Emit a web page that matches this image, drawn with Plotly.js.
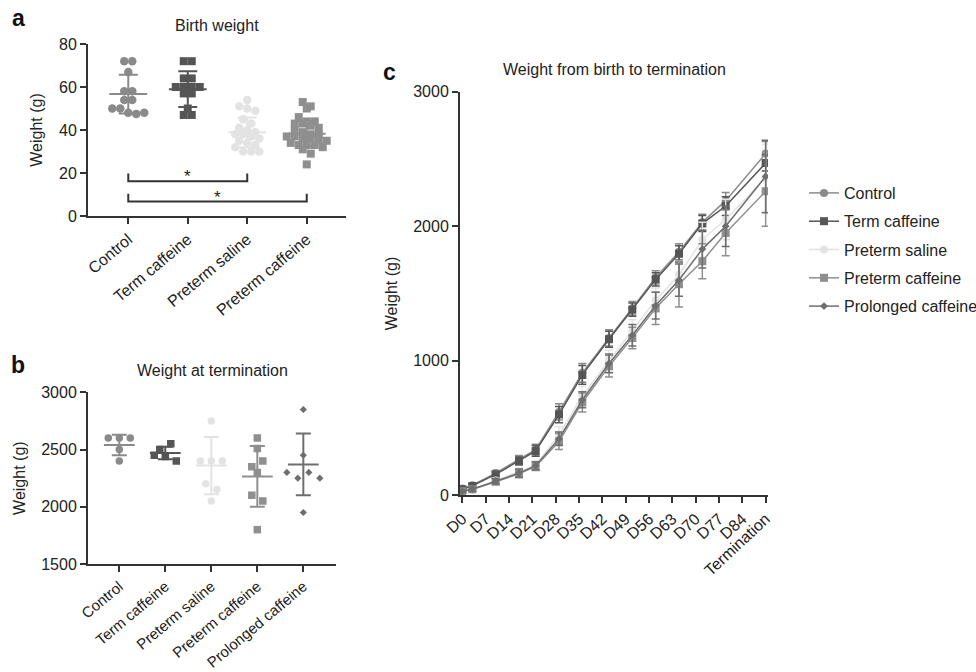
<!DOCTYPE html>
<html><head><meta charset="utf-8">
<script src="https://cdn.plot.ly/plotly-3.0.1.min.js"></script>
<style>html,body{margin:0;padding:0;background:#fff}#chart{width:976px;height:672px}</style>
</head><body><div id="chart"></div>
<script>
// ---------- Panel a: Birth weight (g) ----------
const birthGroups = ["Control", "Term caffeine", "Preterm saline", "Preterm caffeine"];
const birthControl = [72, 72, 67, 58, 58, 54, 54, 50, 50, 48, 47.5, 48];
const birthTermCaffeine = [72, 72, 64, 64, 60, 60, 60, 60, 57, 57, 50, 47, 47];
const birthPretermSaline = [54, 51, 50, 49, 45, 43, 41, 40, 39, 38, 38, 37, 36, 35, 34, 33, 32, 30, 30, 30];
const birthPretermCaffeine = [53, 51, 50, 46, 44, 44, 43, 43, 42, 41, 40, 39, 38, 38, 37, 37, 36, 36, 35, 35, 34, 33, 33, 33, 32, 31, 29, 24];
const birthMean = [56.7, 59.0, 38.9, 38.3];
const birthSD = [9.0, 8.3, 6.9, 5.8];

// ---------- Panel b: Weight at termination (g) ----------
const termGroups = ["Control", "Term caffeine", "Preterm saline", "Preterm caffeine", "Prolonged caffeine"];
const termControl = [2600, 2600, 2600, 2500, 2400];
const termTermCaffeine = [2500, 2550, 2450, 2440, 2400];
const termPretermSaline = [2750, 2400, 2400, 2400, 2200, 2150, 2050];
const termPretermCaffeine = [2600, 2510, 2350, 2400, 2300, 2100, 2050, 1800];
const termProlongedCaffeine = [2850, 2450, 2300, 2250, 2300, 2250, 1950];
const termMean = [2540, 2470, 2360, 2265, 2370];
const termSD = [90, 55, 250, 265, 270];

// ---------- Panel c: Weight from birth to termination (g) ----------
const tickDays = [0, 7, 14, 21, 28, 35, 42, 49, 56, 63, 70, 77, 84, 91];
const tickLabels = ["D0", "D7", "D14", "D21", "D28", "D35", "D42", "D49", "D56", "D63", "D70", "D77", "D84", "Termination"];
const sampleDays = [0, 3, 10, 17, 22, 29, 36, 44, 51, 58, 65, 72, 79, 91];
const curveControl = [50, 75, 165, 265, 340, 620, 910, 1170, 1390, 1620, 1810, 2030, 2190, 2540];
const curveControlSD = [10, 15, 20, 30, 40, 60, 70, 60, 50, 50, 60, 60, 60, 90];
const curveTermCaffeine = [45, 70, 155, 255, 330, 600, 895, 1160, 1380, 1605, 1795, 2020, 2150, 2470];
const curveTermCaffeineSD = [10, 15, 20, 30, 40, 60, 70, 60, 50, 50, 60, 60, 70, 60];
const curvePretermSaline = [25, 40, 110, 175, 225, 450, 740, 1000, 1225, 1450, 1640, 1900, 2050, 2360];
const curvePretermSalineSD = [10, 15, 20, 30, 30, 60, 70, 80, 80, 90, 100, 130, 150, 250];
const curvePretermCaffeine = [30, 45, 100, 160, 215, 400, 690, 960, 1170, 1390, 1570, 1740, 1950, 2260];
const curvePretermCaffeineSD = [10, 15, 20, 30, 30, 60, 70, 80, 80, 120, 170, 130, 170, 260];
const curveProlongedCaffeine = [30, 45, 105, 165, 220, 420, 710, 980, 1190, 1410, 1600, 1830, 2000, 2370];
const curveProlongedCaffeineSD = [10, 15, 20, 30, 30, 50, 60, 70, 80, 100, 120, 140, 150, 270];

// ---------- styles ----------
const colors = ["#8a8a8a", "#555555", "#e3e3e3", "#8f8f8f", "#6e6e6e"];
const symbols = ["circle", "square", "circle", "square", "diamond"];
const FONT = "Liberation Sans, Arial, Helvetica, sans-serif";
const TXT = "#222222";
const AX = "#333333";

// Beeswarm-like horizontal spreading (computed from values)
function swarm(vals, center, stepVal, dx) {
  const idx = vals.map((v, i) => i).sort((a, b) => vals[b] - vals[a] || a - b);
  const xs = new Array(vals.length);
  let i = 0;
  while (i < idx.length) {
    const start = vals[idx[i]];
    let j = i;
    while (j < idx.length && vals[idx[j]] > start - stepVal) j++;
    const grp = idx.slice(i, j).sort((a, b) => a - b);
    grp.forEach((k, m) => { xs[k] = center + (m - (grp.length - 1) / 2) * dx; });
    i = j;
  }
  return xs;
}

const traces = [];

// Panel a
const birthData = [birthControl, birthTermCaffeine, birthPretermSaline, birthPretermCaffeine];
birthData.forEach((vals, g) => {
  traces.push({
    type: "scatter", mode: "markers", xaxis: "x", yaxis: "y", showlegend: false, hoverinfo: "y",
    x: swarm(vals, g, 3, 8 / 59.5), y: vals,
    marker: { symbol: symbols[g], size: g % 2 === 0 ? 8.5 : 8, color: colors[g], line: { width: 0 } }
  });
});
birthMean.forEach((m, g) => {
  traces.push({
    type: "scatter", mode: "markers", xaxis: "x", yaxis: "y", showlegend: false, hoverinfo: "y",
    x: [g], y: [m],
    marker: { symbol: "line-ew", size: 27, color: colors[g], line: { width: 2, color: colors[g] } },
    error_y: { type: "data", array: [birthSD[g]], visible: true, width: 9.5, thickness: 2, color: colors[g] }
  });
});

// Panel b
const termData = [termControl, termTermCaffeine, termPretermSaline, termPretermCaffeine, termProlongedCaffeine];
termData.forEach((vals, g) => {
  traces.push({
    type: "scatter", mode: "markers", xaxis: "x2", yaxis: "y2", showlegend: false, hoverinfo: "y",
    x: swarm(vals, g, 61, 11 / 46), y: vals,
    marker: { symbol: symbols[g], size: symbols[g] === "diamond" ? 5.5 : 7.5, color: colors[g], line: { width: 0 } }
  });
});
termMean.forEach((m, g) => {
  traces.push({
    type: "scatter", mode: "markers", xaxis: "x2", yaxis: "y2", showlegend: false, hoverinfo: "y",
    x: [g], y: [m],
    marker: { symbol: "line-ew", size: 22, color: colors[g], line: { width: 2, color: colors[g] } },
    error_y: { type: "data", array: [termSD[g]], visible: true, width: 7.5, thickness: 2, color: colors[g] }
  });
});

// Panel c
const curves = [
  [curveControl, curveControlSD],
  [curveTermCaffeine, curveTermCaffeineSD],
  [curvePretermSaline, curvePretermSalineSD],
  [curvePretermCaffeine, curvePretermCaffeineSD],
  [curveProlongedCaffeine, curveProlongedCaffeineSD]
];
curves.forEach(([vals, sd], g) => {
  traces.push({
    type: "scatter", mode: "lines+markers", xaxis: "x3", yaxis: "y3", name: termGroups[g],
    legendgroup: "g" + g,
    x: sampleDays, y: vals,
    line: { color: colors[g], width: 1.5 },
    marker: { symbol: symbols[g], size: symbols[g] === "diamond" ? 6 : 8, color: colors[g], line: { width: 0 } },
    error_y: { type: "data", array: sd, visible: true, width: 4, thickness: 1.5, color: colors[g] }
  });
});

const W = 976, H = 672;
const px = x => x / W;
const py = y => 1 - y / H;

const axisCommon = {
  showline: true, linecolor: AX, linewidth: 2, ticks: "outside", ticklen: 6, tickwidth: 2, tickcolor: AX,
  showgrid: false, zeroline: false, tickfont: { family: FONT, size: 16, color: TXT }, fixedrange: true
};
const ytitle = (t) => ({ text: t, font: { family: FONT, size: 16, color: TXT }, standoff: 12 });

const layout = {
  width: W, height: H, margin: { l: 0, r: 0, t: 0, b: 0, autoexpand: false },
  paper_bgcolor: "#ffffff", plot_bgcolor: "#ffffff",
  font: { family: FONT, size: 16, color: TXT },
  showlegend: true,
  legend: {
    x: px(804), y: py(176), xanchor: "left", yanchor: "top",
    font: { family: FONT, size: 16, color: TXT }, bgcolor: "rgba(0,0,0,0)", itemwidth: 30,
    tracegroupgap: 4.5
  },
  xaxis: Object.assign({}, axisCommon, {
    domain: [px(88), px(346)], anchor: "y", range: [-0.677, 3.66],
    tickmode: "array", tickvals: [0, 1, 2, 3], ticktext: birthGroups, tickangle: -40
  }),
  yaxis: Object.assign({}, axisCommon, {
    domain: [py(216), py(44)], anchor: "x", range: [0, 80], tickvals: [0, 20, 40, 60, 80],
    title: ytitle("Weight (g)")
  }),
  xaxis2: Object.assign({}, axisCommon, {
    domain: [px(88), px(336)], anchor: "y2", range: [-0.68, 4.71],
    tickmode: "array", tickvals: [0, 1, 2, 3, 4], ticktext: termGroups, tickangle: -40,
    tickfont: { family: FONT, size: 15, color: TXT }
  }),
  yaxis2: Object.assign({}, axisCommon, {
    domain: [py(564), py(392.3)], anchor: "x2", range: [1500, 3000], tickvals: [1500, 2000, 2500, 3000],
    title: ytitle("Weight (g)")
  }),
  xaxis3: Object.assign({}, axisCommon, {
    domain: [px(460), px(768)], anchor: "y3", range: [-0.7, 91.7],
    tickmode: "array", tickvals: tickDays, ticktext: tickLabels, tickangle: -43
  }),
  yaxis3: Object.assign({}, axisCommon, {
    domain: [py(495.3), py(91.7)], anchor: "x3", range: [0, 3000], tickvals: [0, 1000, 2000, 3000],
    title: ytitle("Weight (g)")
  }),
  shapes: [],
  annotations: []
};

// significance brackets (panel a)
const sigPairs = [[0, 2], [0, 3]];
const sigLevels = [16.2, 6.7];
const sigHeight = 3.6;
sigPairs.forEach(([a, b], k) => {
  const yb = sigLevels[k];
  layout.shapes.push({
    type: "path", xref: "x", yref: "y",
    path: `M ${a} ${yb + sigHeight} L ${a} ${yb} L ${b} ${yb} L ${b} ${yb + sigHeight}`,
    line: { color: AX, width: 2 }
  });
  layout.annotations.push({
    xref: "x", yref: "y", x: (a + b) / 2, y: yb + 2, text: "*", showarrow: false,
    yanchor: "middle", font: { family: FONT, size: 17, color: TXT }
  });
});

// panel titles and letters
const titles = [
  ["Birth weight", 217, 26], ["Weight at termination", 212, 370], ["Weight from birth to termination", 614, 70]
];
titles.forEach(([t, x, y]) => layout.annotations.push({
  xref: "paper", yref: "paper", x: px(x), y: py(y), xanchor: "center", yanchor: "middle",
  text: t, showarrow: false, font: { family: FONT, size: 16, color: TXT }
}));
const letters = [["a", 18, 18], ["b", 18, 365], ["c", 389, 72]];
letters.forEach(([t, x, y]) => layout.annotations.push({
  xref: "paper", yref: "paper", x: px(x), y: py(y), xanchor: "center", yanchor: "middle",
  text: "<b>" + t + "</b>", showarrow: false, font: { family: FONT, size: 23, color: "#111111" }
}));

Plotly.newPlot("chart", traces, layout, { displayModeBar: false, staticPlot: true });
</script>
</body></html>
